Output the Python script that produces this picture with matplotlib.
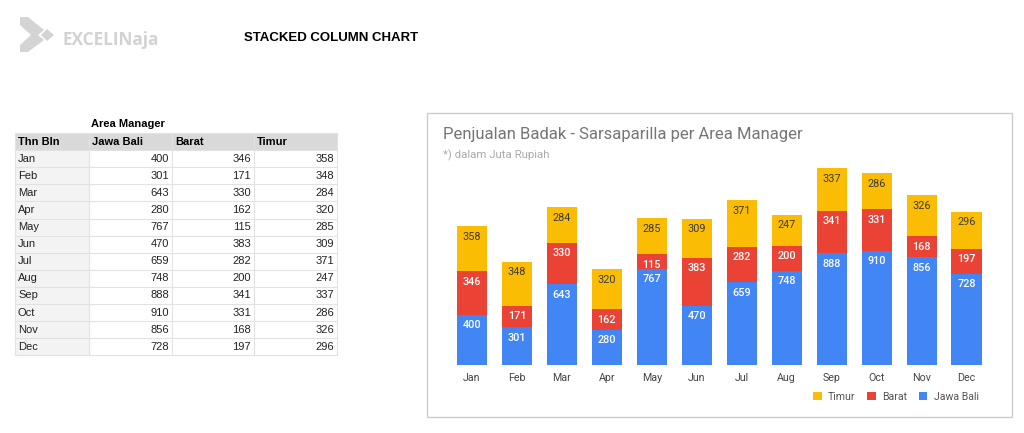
import matplotlib
matplotlib.use("Agg")
import matplotlib.pyplot as plt
from matplotlib.patches import Rectangle, Polygon

months = ["Jan", "Feb", "Mar", "Apr", "May", "Jun", "Jul", "Aug", "Sep", "Oct", "Nov", "Dec"]
jawa_bali = [400, 301, 643, 280, 767, 470, 659, 748, 888, 910, 856, 728]
barat = [346, 171, 330, 162, 115, 383, 282, 200, 341, 331, 168, 197]
timur = [358, 348, 284, 320, 285, 309, 371, 247, 337, 286, 326, 296]
series_names = ["Jawa Bali", "Barat", "Timur"]
table_headers = ["Thn Bln", "Jawa Bali", "Barat", "Timur"]

W, H = 1024, 433
fig = plt.figure(figsize=(W / 100, H / 100), dpi=100)
fig.patch.set_facecolor("white")

def fx(x):
    return x / W

def fy(y):
    return 1 - y / H

# ---------- logo & page title ----------
logo = Polygon([(fx(20), fy(17)), (fx(28), fy(17)), (fx(44), fy(30)), (fx(38), fy(35)),
                (fx(44), fy(40)), (fx(28), fy(52)), (fx(20), fy(52)), (fx(20), fy(45)),
                (fx(31), fy(35)), (fx(20), fy(25))],
               closed=True, transform=fig.transFigure, facecolor="#d4d4d4", edgecolor="none")
fig.patches.append(logo)
diamond = Polygon([(fx(47), fy(29)), (fx(54), fy(35)), (fx(47), fy(41)), (fx(41), fy(35))],
                  closed=True, transform=fig.transFigure, facecolor="#d4d4d4", edgecolor="none")
fig.patches.append(diamond)
fig.text(fx(62), fy(40), "EXCELINaja", fontsize=12.3, fontweight="bold", color="#d2d2d2",
         family="Open Sans", va="center", ha="left")
fig.text(fx(244), fy(38), "STACKED COLUMN CHART", fontsize=9.5, fontweight="bold", color="black",
         family="Liberation Sans", va="center", ha="left")

# ---------- table ----------
col_x = [15, 89, 172, 254, 337]
header_top = 133
row_h = 17.1
tfs = 8
fig.text(fx(91), fy(124), "Area Manager", fontsize=tfs, fontweight="bold", family="Liberation Sans",
         va="center", ha="left", color="black")
fig.patches.append(Rectangle((fx(col_x[0]), fy(header_top + row_h)), fx(col_x[-1] - col_x[0]), row_h / H,
                             transform=fig.transFigure, facecolor="#d9d9d9", edgecolor="none"))
fig.patches.append(Rectangle((fx(col_x[0]), fy(header_top + row_h * 13)), fx(col_x[1] - col_x[0]), row_h * 12 / H,
                             transform=fig.transFigure, facecolor="#f3f3f3", edgecolor="none"))
for i in range(14):
    y = header_top + i * row_h
    fig.add_artist(plt.Line2D([fx(col_x[0]), fx(col_x[-1])], [fy(y), fy(y)], color="#e2e2e2", lw=0.8,
                              transform=fig.transFigure))
for x in col_x:
    fig.add_artist(plt.Line2D([fx(x), fx(x)], [fy(header_top), fy(header_top + 13 * row_h)], color="#e2e2e2",
                              lw=0.8, transform=fig.transFigure))
for j, h in enumerate(table_headers):
    fig.text(fx(col_x[j] + 3), fy(header_top + row_h / 2), h, fontsize=tfs, fontweight="bold",
             family="Liberation Sans", va="center", ha="left", color="black")
for i, m in enumerate(months):
    yc = header_top + (i + 1.5) * row_h
    fig.text(fx(col_x[0] + 3), fy(yc), m, fontsize=tfs, family="Liberation Sans", va="center", ha="left",
             color="#222222")
    for j, arr in enumerate([jawa_bali, barat, timur]):
        fig.text(fx(col_x[j + 2] - 3), fy(yc), str(arr[i]), fontsize=tfs, family="Liberation Sans",
                 va="center", ha="right", color="#222222")

# ---------- chart box ----------
box = Rectangle((fx(427), fy(417)), fx(1012 - 427), (417 - 113) / H, transform=fig.transFigure,
                facecolor="white", edgecolor="#cccccc", lw=1.0, zorder=-5)
fig.patches.append(box)
fig.text(fx(443), fy(135), "Penjualan Badak - Sarsaparilla per Area Manager", fontsize=12, color="#757575",
         family="Roboto", va="center", ha="left")
fig.text(fx(443), fy(155), "*) dalam Juta Rupiah", fontsize=8.2, color="#aaaaaa", family="Roboto",
         va="center", ha="left")

ax_left, ax_right, ax_bottom, ax_top = 449.5, 989, 365, 164
ax = fig.add_axes([fx(ax_left), fy(ax_bottom), fx(ax_right - ax_left), (ax_bottom - ax_top) / H])
ax.set_zorder(5)
ax.set_facecolor("none")
colors = {"Jawa Bali": "#4285F4", "Barat": "#EA4335", "Timur": "#FBBC04"}
text_colors = {"Jawa Bali": "white", "Barat": "white", "Timur": "#3a3a3a"}
x = list(range(len(months)))
bottom = [0] * len(months)
handles = {}
for name, vals in zip(series_names, [jawa_bali, barat, timur]):
    bars = ax.bar(x, vals, width=0.67, bottom=bottom, color=colors[name], label=name, zorder=2)
    handles[name] = bars
    for i, v in enumerate(vals):
        ax.annotate(str(v), (i, bottom[i] + v), xytext=(0, -7.5), textcoords="offset points",
                    ha="center", va="center", fontsize=7.8, color=text_colors[name], family="Roboto",
                    fontweight="medium" if name != "Timur" else "normal")
    bottom = [b + v for b, v in zip(bottom, vals)]
ax.set_xlim(-0.5, 11.5)
ax.set_ylim(0, 1600)
ax.set_yticks([])
ax.set_xticks(x)
ax.set_xticklabels(months, fontsize=7.7, color="#444444", family="Roboto")
ax.tick_params(axis="x", length=0, pad=6)
for s in ax.spines.values():
    s.set_visible(False)

leg = fig.legend([handles["Timur"], handles["Barat"], handles["Jawa Bali"]], ["Timur", "Barat", "Jawa Bali"],
                 loc="center right", bbox_to_anchor=(fx(988), fy(397)), ncol=3, frameon=False,
                 prop={"family": "Roboto", "size": 7.6}, handlelength=0.8, handleheight=0.8,
                 columnspacing=1.1, handletextpad=0.6, labelcolor="#555555")

fig.savefig("out.png", dpi=100, facecolor="white")
